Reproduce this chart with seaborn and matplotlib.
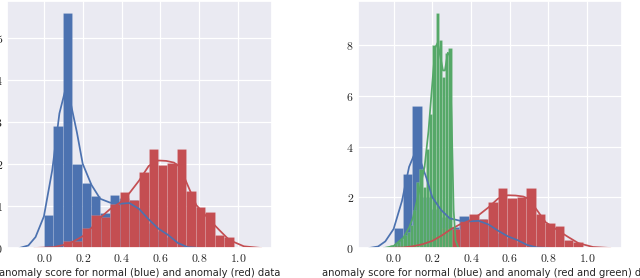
import numpy as np
import pandas as pd
import seaborn as sns
import matplotlib
matplotlib.use("Agg")
import matplotlib.pyplot as plt
from matplotlib.ticker import FuncFormatter

# -------------------------------------------------
# Data (density histograms + KDE curves)
# -------------------------------------------------
blue_edges = [0.0, 0.0485, 0.097, 0.1455, 0.194, 0.2425, 0.291, 0.3395, 0.388,
              0.4365, 0.485, 0.5335, 0.582, 0.6305, 0.679]
blue_heights = [0.78, 2.9, 5.59, 2.0, 1.54, 1.24, 0.82, 1.25, 1.2, 1.15,
                0.9, 0.6, 0.4, 0.25]

red_edges = [0.097, 0.146, 0.195, 0.244, 0.293, 0.342, 0.391, 0.44, 0.489, 0.539,
             0.587, 0.636, 0.685, 0.734, 0.782, 0.832, 0.881, 0.929, 0.979]
red_heights = [0.17, 0.17, 0.48, 0.78, 0.74, 1.05, 1.34, 1.13, 1.81, 2.36,
               1.97, 2.03, 2.36, 1.35, 0.98, 0.85, 0.31, 0.25]

green_edges = [-0.033, -0.017, 0.0, 0.017, 0.033, 0.05, 0.067, 0.083, 0.1, 0.117,
               0.133, 0.15, 0.167, 0.183, 0.2, 0.217, 0.233, 0.25, 0.267, 0.283, 0.3]
green_heights = [0.05, 0.1, 0.15, 0.25, 0.35, 0.5, 0.65, 0.9, 1.5, 2.6,
                 3.1, 2.4, 3.9, 5.3, 8.0, 9.28, 8.2, 6.75, 7.7, 7.87]

blue_kde_x = [-0.126, -0.08, -0.043, 0.0, 0.043, 0.08, 0.11, 0.14, 0.17, 0.2, 0.245,
              0.29, 0.34, 0.39, 0.44, 0.49, 0.54, 0.59, 0.64, 0.69, 0.74, 0.80]
blue_kde_y = [0.0, 0.06, 0.26, 0.75, 1.85, 3.2, 3.75, 3.4, 2.75, 2.0, 1.5,
              1.17, 1.08, 1.05, 1.07, 0.93, 0.68, 0.46, 0.31, 0.12, 0.02, 0.0]

red_kde_x = [-0.05, 0.05, 0.1, 0.15, 0.2, 0.25, 0.3, 0.34, 0.39, 0.44, 0.49, 0.54,
             0.59, 0.63, 0.67, 0.70, 0.74, 0.785, 0.855, 0.905, 0.955, 1.03, 1.12]
red_kde_y = [0.0, 0.02, 0.07, 0.15, 0.28, 0.5, 0.76, 0.92, 1.07, 1.3, 1.6, 1.95,
             2.08, 2.07, 2.03, 1.93, 1.5, 1.02, 0.66, 0.42, 0.19, 0.04, 0.0]

green_kde_x = [-0.05, 0.0, 0.05, 0.08, 0.1, 0.12, 0.14, 0.16, 0.18, 0.2, 0.215, 0.228,
               0.24, 0.255, 0.265, 0.28, 0.29, 0.30, 0.31, 0.32, 0.335]
green_kde_y = [0.0, 0.08, 0.4, 0.8, 1.2, 1.85, 2.5, 3.2, 4.6, 6.5, 7.9, 8.1,
               7.6, 7.0, 7.0, 7.7, 7.6, 5.0, 1.5, 0.3, 0.0]

x_ticks = [0.0, 0.2, 0.4, 0.6, 0.8, 1.0]
left_label = "anomaly score for normal (blue) and anomaly (red) data"
right_label = "anomaly score for normal (blue) and anomaly (red and green) data"

BLUE, RED, GREEN = "#4C72B0", "#C44E52", "#55A868"

sns.set_theme(style="darkgrid", rc={"grid.linewidth": 0.9, "mathtext.fontset": "cm"})
plt.rcParams["font.family"] = ["DejaVu Sans"]


def draw_hist(ax, edges, heights, color):
    centers = [(a + b) / 2 for a, b in zip(edges[:-1], edges[1:])]
    df = pd.DataFrame({"x": centers, "w": heights})
    sns.histplot(data=df, x="x", weights="w", bins=list(edges), ax=ax, color=color,
                 alpha=1.0, edgecolor=(1, 1, 1, 0.2), linewidth=0.4)


def draw_kde(ax, xs, ys, color):
    sns.lineplot(x=xs, y=ys, ax=ax, color=color, linewidth=1.25)


def style_axes(ax, xlim, ylim, yticks, label):
    ax.set_xlim(*xlim)
    ax.set_ylim(*ylim)
    ax.set_xticks(x_ticks)
    ax.set_yticks(yticks)
    ax.xaxis.set_major_formatter(FuncFormatter(lambda v, p: f"${v:.1f}$"))
    ax.yaxis.set_major_formatter(FuncFormatter(lambda v, p: f"${int(round(v))}$"))
    ax.tick_params(labelsize=8.5, length=0, pad=3)
    ax.set_ylabel("")
    ax.set_xlabel(label, fontsize=7.2, labelpad=2)


fig = plt.figure(figsize=(6.4, 2.78), dpi=100)
ax1 = fig.add_axes([7 / 640, 30 / 278, 265 / 640, 247 / 278])
ax2 = fig.add_axes([358 / 640, 30 / 278, 264 / 640, 247 / 278])

# left panel
draw_hist(ax1, blue_edges, blue_heights, BLUE)
draw_hist(ax1, red_edges, red_heights, RED)
draw_kde(ax1, blue_kde_x, blue_kde_y, BLUE)
draw_kde(ax1, red_kde_x, red_kde_y, RED)
style_axes(ax1, (-0.19, 1.175), (0, 5.87), [0, 1, 2, 3, 4, 5], left_label)

# right panel
draw_hist(ax2, blue_edges, blue_heights, BLUE)
draw_hist(ax2, red_edges, red_heights, RED)
draw_hist(ax2, green_edges, green_heights, GREEN)
draw_kde(ax2, blue_kde_x, blue_kde_y, BLUE)
draw_kde(ax2, red_kde_x, red_kde_y, RED)
draw_kde(ax2, green_kde_x, green_kde_y, GREEN)
style_axes(ax2, (-0.184, 1.18), (0, 9.74), [0, 2, 4, 6, 8], right_label)

fig.savefig("out.png", dpi=100)
